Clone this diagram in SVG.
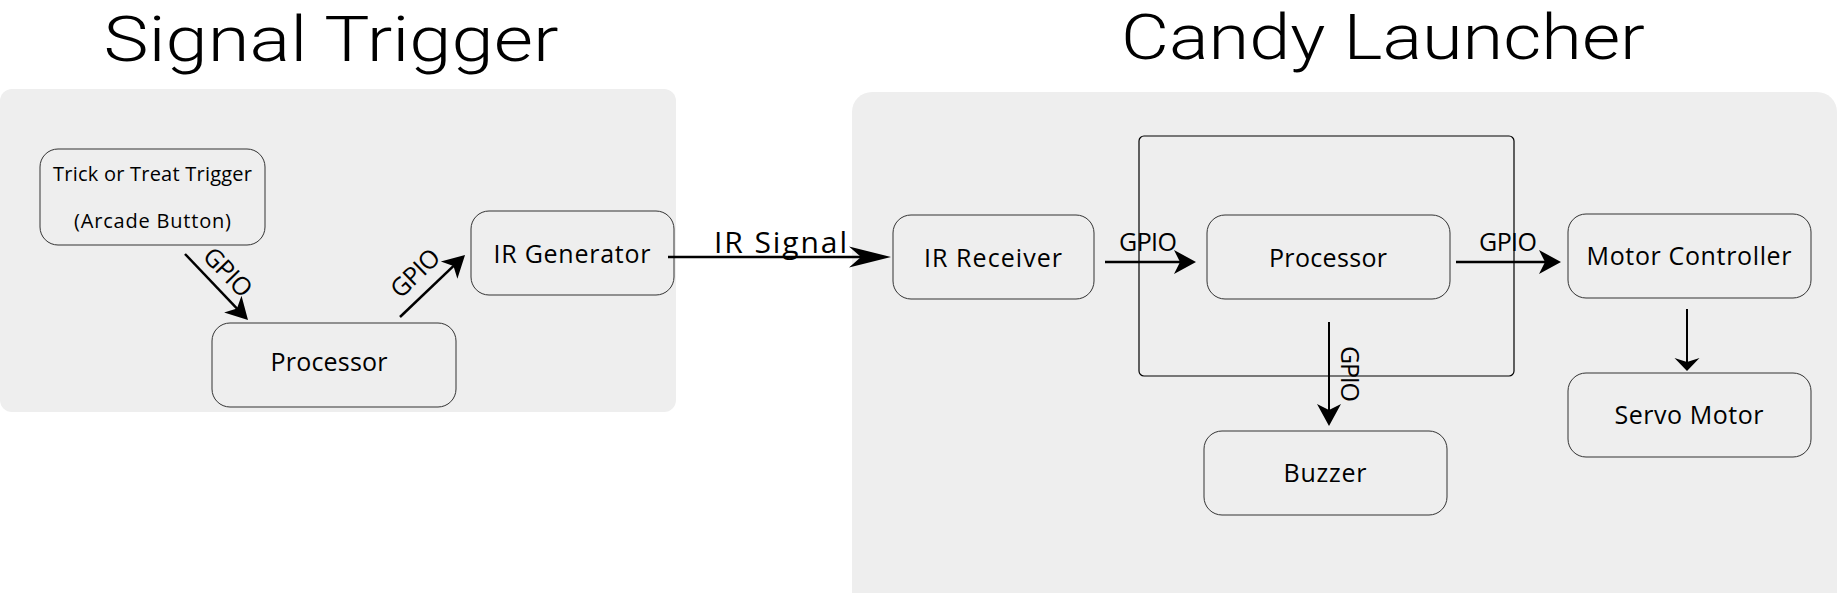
<svg xmlns="http://www.w3.org/2000/svg" width="1837" height="593" viewBox="0 0 1837 593">
<style>
.panel{fill:#eeeeee}
.node rect{fill:#eeeeee;stroke:#333333;stroke-width:1}
text{font-family:"Open Sans","Liberation Sans",sans-serif;fill:#000000}
.lbl{font-size:25px;text-anchor:middle}
.small{font-size:20px;text-anchor:middle}
.title{font-family:Roboto,"Liberation Sans",sans-serif;font-weight:300;font-size:63px;text-anchor:middle}
.edge{stroke:#000000;stroke-width:2.5;fill:none}
.thin{stroke-width:2}
.head{fill:#000000}
</style>
<defs>
<marker id="classic" markerUnits="userSpaceOnUse" viewBox="-24 -14 28 28" markerWidth="28" markerHeight="28" refX="-10" refY="0" orient="auto" overflow="visible"><path class="head" d="M0,0 L-22,-12 L-16,0 L-22,12 Z"/></marker>
<marker id="long" markerUnits="userSpaceOnUse" viewBox="-44 -12 48 24" markerWidth="48" markerHeight="24" refX="-12" refY="0" orient="auto" overflow="visible"><path class="head" d="M0,0 L-42,-10.5 L-30,0 L-42,10.5 Z"/></marker>
<marker id="flat" markerUnits="userSpaceOnUse" viewBox="-16 -14 20 28" markerWidth="20" markerHeight="28" refX="-6" refY="0" orient="auto" overflow="visible"><path class="head" d="M0,0 L-13,-12.5 L-9,0 L-13,12.5 Z"/></marker>
</defs>

<g id="panel-signal-trigger">
<rect class="panel" x="0" y="89" width="676" height="323" rx="12"/>
<text class="title" x="331" y="61" textLength="455" lengthAdjust="spacingAndGlyphs">Signal Trigger</text>
</g>
<g id="panel-candy-launcher">
<rect class="panel" x="852" y="92" width="985" height="520" rx="20"/>
<text class="title" x="1383" y="59" textLength="524" lengthAdjust="spacingAndGlyphs">Candy Launcher</text>
</g>
<g id="processor-container">
<rect x="1139" y="136" width="375" height="240" rx="5" fill="none" stroke="#000000" stroke-width="1.2"/>
</g>

<g id="trick-or-treat-trigger" class="node">
<rect x="40" y="149" width="225" height="96" rx="18"/>
<text class="small" x="152.5" y="181" textLength="199">Trick or Treat Trigger</text>
<text class="small" x="152.5" y="228" textLength="157">(Arcade Button)</text>
</g>
<g id="processor-left" class="node">
<rect x="212" y="323" width="244" height="84" rx="18"/>
<text class="lbl" x="329" y="371" textLength="117">Processor</text>
</g>
<g id="ir-generator" class="node">
<rect x="471" y="211" width="203" height="84" rx="18"/>
<text class="lbl" x="572" y="263" textLength="157">IR Generator</text>
</g>
<g id="ir-receiver" class="node">
<rect x="893" y="215" width="201" height="84" rx="18"/>
<text class="lbl" x="993" y="267" textLength="138">IR Receiver</text>
</g>
<g id="processor-right" class="node">
<rect x="1207" y="215" width="243" height="84" rx="18"/>
<text class="lbl" x="1328" y="267" textLength="118">Processor</text>
</g>
<g id="motor-controller" class="node">
<rect x="1568" y="214" width="243" height="84" rx="18"/>
<text class="lbl" x="1689" y="265" textLength="205">Motor Controller</text>
</g>
<g id="servo-motor" class="node">
<rect x="1568" y="373" width="243" height="84" rx="18"/>
<text class="lbl" x="1689" y="424" textLength="149">Servo Motor</text>
</g>
<g id="buzzer" class="node">
<rect x="1204" y="431" width="243" height="84" rx="18"/>
<text class="lbl" x="1325" y="482" textLength="83">Buzzer</text>
</g>

<g id="connectors">
<path class="edge" d="M185,254 L241.1,312.8" marker-end="url(#classic)"/>
<text class="lbl" transform="translate(228,272) rotate(46)" y="9" textLength="58">GPIO</text>
<path class="edge" d="M400,317 L457.8,261.9" marker-end="url(#classic)"/>
<text class="lbl" transform="translate(415,273) rotate(-44)" y="9" textLength="58">GPIO</text>
<path class="edge" d="M668,257 L879,257" marker-end="url(#long)"/>
<text class="lbl" x="780.5" y="253" style="font-size:30px" textLength="133">IR Signal</text>
<path class="edge" d="M1105,262 L1186,262" marker-end="url(#classic)"/>
<text class="lbl" x="1148" y="251" textLength="58">GPIO</text>
<path class="edge" d="M1456,262 L1551,262" marker-end="url(#classic)"/>
<text class="lbl" x="1508" y="251" textLength="58">GPIO</text>
<path class="edge thin" d="M1329,322 L1329,416" marker-end="url(#classic)"/>
<text class="lbl" transform="translate(1350,374) rotate(90)" y="9" textLength="56">GPIO</text>
<path class="edge thin" d="M1687,309 L1687,365" marker-end="url(#flat)"/>
</g>
</svg>
